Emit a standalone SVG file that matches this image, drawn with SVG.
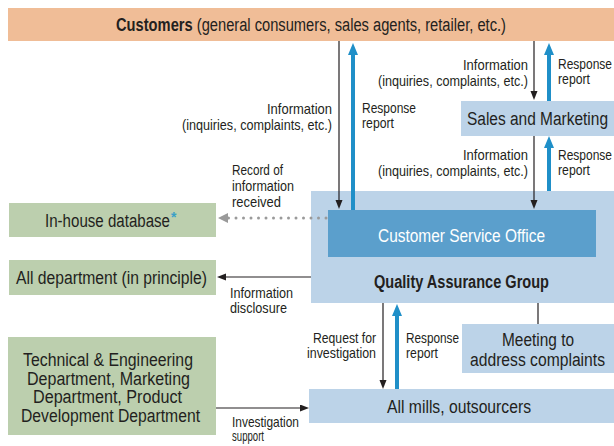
<svg xmlns="http://www.w3.org/2000/svg" width="614" height="446" viewBox="0 0 614 446">
<defs>
<style>
text{font-family:"Liberation Sans",Arial,sans-serif;fill:#231f20}
.lbl{font-size:15px}
.box{font-size:18px}
.b{font-weight:bold}
.lb{fill:#bcd3e8}
.gr{fill:#bccfae}
.blk{stroke:#231f20;stroke-width:1.2;fill:none}
.blu{stroke:#1f8fc8;stroke-width:4;fill:none}
</style>
<marker id="ab" markerUnits="userSpaceOnUse" markerWidth="10" markerHeight="8" refX="1" refY="3.5" orient="auto">
<path d="M0,0 L9,3.5 L0,7 z" fill="#231f20"/>
</marker>
<marker id="au" markerUnits="userSpaceOnUse" markerWidth="13" markerHeight="11" refX="2" refY="5" orient="auto">
<path d="M0,0 L12,5 L0,10 z" fill="#1f8fc8"/>
</marker>
<marker id="ag" markerUnits="userSpaceOnUse" markerWidth="11" markerHeight="11" refX="1" refY="5" orient="auto">
<path d="M0,0 L10,5 L0,10 z" fill="#9a9a9a"/>
</marker>
</defs>
<rect width="614" height="446" fill="#ffffff"/>

<g id="customers">
<rect x="8" y="8" width="606" height="33" fill="#f0bd97"/>
<text class="box" x="116" y="31" textLength="390" lengthAdjust="spacingAndGlyphs"><tspan class="b">Customers</tspan> (general consumers, sales agents, retailer, etc.)</text>
</g>

<g id="sales">
<rect class="lb" x="461" y="101" width="153" height="35"/>
<text class="box" x="467" y="125" textLength="141" lengthAdjust="spacingAndGlyphs">Sales and Marketing</text>
</g>

<g id="qa">
<rect class="lb" x="311" y="191" width="303" height="112"/>
<text class="box b" x="374" y="288" textLength="175" lengthAdjust="spacingAndGlyphs">Quality Assurance Group</text>
</g>

<g id="cso">
<rect x="328" y="210" width="268" height="47" fill="#5b9fcc"/>
<text class="box" x="378" y="242" textLength="167" lengthAdjust="spacingAndGlyphs" style="fill:#ffffff">Customer Service Office</text>
</g>

<g id="database">
<rect class="gr" x="9" y="203" width="207" height="34"/>
<text class="box" x="45" y="227" textLength="125" lengthAdjust="spacingAndGlyphs">In-house database</text>
<text x="171" y="222" style="font-size:14px;font-weight:bold;fill:#3aa0c8">*</text>
</g>

<g id="alldept">
<rect class="gr" x="9" y="260" width="207" height="35"/>
<text class="box" x="16" y="284" textLength="191" lengthAdjust="spacingAndGlyphs">All department (in principle)</text>
</g>

<g id="meeting">
<rect class="lb" x="462" y="324" width="152" height="49"/>
<text class="box" x="502" y="346" textLength="72" lengthAdjust="spacingAndGlyphs">Meeting to</text>
<text class="box" x="470" y="366" textLength="135" lengthAdjust="spacingAndGlyphs">address complaints</text>
</g>

<g id="tech">
<rect class="gr" x="8" y="337" width="208" height="98"/>
<text class="box" x="23" y="366" textLength="170" lengthAdjust="spacingAndGlyphs">Technical &amp; Engineering</text>
<text class="box" x="27" y="384.5" textLength="163" lengthAdjust="spacingAndGlyphs">Department, Marketing</text>
<text class="box" x="33" y="403" textLength="149" lengthAdjust="spacingAndGlyphs">Department, Product</text>
<text class="box" x="21" y="421.5" textLength="179" lengthAdjust="spacingAndGlyphs">Development Department</text>
</g>

<g id="mills">
<rect class="lb" x="309" y="389" width="305" height="34"/>
<text class="box" x="387" y="413" textLength="144" lengthAdjust="spacingAndGlyphs">All mills, outsourcers</text>
</g>

<g id="connectors">
<line class="blk" x1="339" y1="41" x2="339" y2="201" marker-end="url(#ab)"/>
<line class="blk" x1="534" y1="41" x2="534" y2="92" marker-end="url(#ab)"/>
<line class="blk" x1="534" y1="136" x2="534" y2="201" marker-end="url(#ab)"/>
<line class="blk" x1="383" y1="303" x2="383" y2="381" marker-end="url(#ab)"/>
<line class="blk" x1="311" y1="277" x2="225" y2="277" marker-end="url(#ab)"/>
<line class="blk" x1="216" y1="408" x2="301" y2="408" marker-end="url(#ab)"/>
<line class="blk" x1="538" y1="303" x2="538" y2="324"/>
<line class="blu" x1="353" y1="210" x2="353" y2="53" marker-end="url(#au)"/>
<line class="blu" x1="549" y1="101" x2="549" y2="53" marker-end="url(#au)"/>
<line class="blu" x1="549" y1="191" x2="549" y2="146" marker-end="url(#au)"/>
<line class="blu" x1="397" y1="389" x2="397" y2="314" marker-end="url(#au)"/>
<line x1="326" y1="218" x2="227" y2="218" stroke="#9a9a9a" stroke-width="3" stroke-linecap="round" stroke-dasharray="0 7.5" marker-end="url(#ag)"/>
</g>

<g id="labels">
<text class="lbl" x="332" y="114" text-anchor="end" textLength="65" lengthAdjust="spacingAndGlyphs">Information</text>
<text class="lbl" x="332" y="130" text-anchor="end" textLength="150" lengthAdjust="spacingAndGlyphs">(inquiries, complaints, etc.)</text>
<text class="lbl" x="362" y="113" textLength="54" lengthAdjust="spacingAndGlyphs">Response</text>
<text class="lbl" x="362" y="128" textLength="32" lengthAdjust="spacingAndGlyphs">report</text>

<text class="lbl" x="528" y="70" text-anchor="end" textLength="65" lengthAdjust="spacingAndGlyphs">Information</text>
<text class="lbl" x="528" y="86" text-anchor="end" textLength="150" lengthAdjust="spacingAndGlyphs">(inquiries, complaints, etc.)</text>
<text class="lbl" x="558" y="69" textLength="54" lengthAdjust="spacingAndGlyphs">Response</text>
<text class="lbl" x="558" y="84" textLength="32" lengthAdjust="spacingAndGlyphs">report</text>

<text class="lbl" x="528" y="160" text-anchor="end" textLength="65" lengthAdjust="spacingAndGlyphs">Information</text>
<text class="lbl" x="528" y="176" text-anchor="end" textLength="150" lengthAdjust="spacingAndGlyphs">(inquiries, complaints, etc.)</text>
<text class="lbl" x="558" y="160" textLength="54" lengthAdjust="spacingAndGlyphs">Response</text>
<text class="lbl" x="558" y="175" textLength="32" lengthAdjust="spacingAndGlyphs">report</text>

<text class="lbl" x="232" y="175" textLength="51" lengthAdjust="spacingAndGlyphs">Record of</text>
<text class="lbl" x="232" y="191" textLength="62" lengthAdjust="spacingAndGlyphs">information</text>
<text class="lbl" x="232" y="207" textLength="49" lengthAdjust="spacingAndGlyphs">received</text>

<text class="lbl" x="230" y="298" textLength="63" lengthAdjust="spacingAndGlyphs">Information</text>
<text class="lbl" x="230" y="313" textLength="57" lengthAdjust="spacingAndGlyphs">disclosure</text>

<text class="lbl" x="376" y="343" text-anchor="end" textLength="63" lengthAdjust="spacingAndGlyphs">Request for</text>
<text class="lbl" x="376" y="358" text-anchor="end" textLength="69" lengthAdjust="spacingAndGlyphs">investigation</text>
<text class="lbl" x="406" y="343" textLength="53" lengthAdjust="spacingAndGlyphs">Response</text>
<text class="lbl" x="406" y="358" textLength="32" lengthAdjust="spacingAndGlyphs">report</text>

<text class="lbl" x="232" y="427" textLength="67" lengthAdjust="spacingAndGlyphs">Investigation</text>
<text class="lbl" x="232" y="441" textLength="32" lengthAdjust="spacingAndGlyphs">support</text>
</g>
</svg>
